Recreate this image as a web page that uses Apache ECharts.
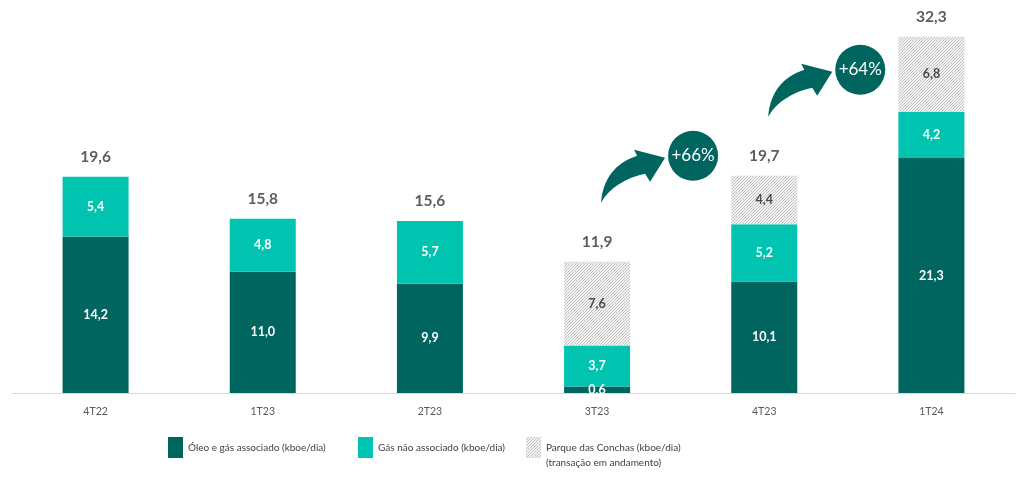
<!DOCTYPE html>
<html>
<head>
<meta charset="utf-8">
<script src="https://cdn.jsdelivr.net/npm/echarts@6/dist/echarts.min.js"></script>
<style>
  html, body { margin: 0; padding: 0; background: #fff; }
  #chart { width: 1017px; height: 485px; }
</style>
</head>
<body>
<div id="chart"></div>
<script>
const quarters = ["4T22", "1T23", "2T23", "3T23", "4T23", "1T24"];
const oleo = [14.2, 11.0, 9.9, 0.6, 10.1, 21.3];
const gasNaoAssociado = [5.4, 4.8, 5.7, 3.7, 5.2, 4.2];
const parqueConchas = [null, null, null, 7.6, 4.4, 6.8];
const totals = [19.6, 15.8, 15.6, 11.9, 19.7, 32.3];
const growth = [
  { from: "3T23", value: 11.9, text: "+66%" },
  { from: "4T23", value: 19.7, text: "+64%" }
];

const DARK = "#00645f";
const TEAL = "#00c4b0";
const FONT = "Lato, 'Open Sans', sans-serif";

function fmt(v) {
  return v.toFixed(1).replace(".", ",");
}

function hatch() {
  const c = document.createElement("canvas");
  c.width = 3;
  c.height = 3;
  const ctx = c.getContext("2d");
  ctx.fillStyle = "#f2f2f2";
  ctx.fillRect(0, 0, 3, 3);
  ctx.strokeStyle = "#c2c2c2";
  ctx.lineWidth = 1;
  ctx.beginPath();
  ctx.moveTo(-1, 4); ctx.lineTo(4, -1);
  ctx.moveTo(-1, 1); ctx.lineTo(1, -1);
  ctx.moveTo(2, 4); ctx.lineTo(4, 2);
  ctx.stroke();
  return { image: c, repeat: "repeat" };
}
const hatchFill = hatch();

// curved "growth" arrow, tail at the shape origin
echarts.graphic.registerShape("growthArrow", echarts.graphic.extendShape({
  shape: { x: 0, y: 0 },
  buildPath(ctx, s) {
    const x = s.x, y = s.y;
    ctx.moveTo(x, y);
    ctx.bezierCurveTo(x + 2, y - 25, x + 15, y - 40, x + 36, y - 47);
    ctx.lineTo(x + 33, y - 53);
    ctx.lineTo(x + 64, y - 45);
    ctx.lineTo(x + 49, y - 21);
    ctx.lineTo(x + 44, y - 29);
    ctx.bezierCurveTo(x + 25, y - 25, x + 8, y - 15, x, y);
    ctx.closePath();
  }
}));

const chart = echarts.init(document.getElementById("chart"));

const innerLabel = (color) => ({
  show: true,
  position: "inside",
  color,
  fontFamily: FONT,
  fontWeight: "bold",
  fontSize: 12.5,
  formatter: (p) => (p.value == null || p.value === "-" ? "" : fmt(p.value))
});

const legendText = { color: "#404040", fontFamily: FONT, fontSize: 10 };
const legendBase = { top: 437, padding: 0, itemWidth: 15, itemHeight: 21, itemGap: 0, textStyle: legendText, selectedMode: false };

chart.setOption({
  animation: false,
  backgroundColor: "#fff",
  grid: { left: 12, right: 2, top: 7, bottom: 92 },
  xAxis: {
    type: "category",
    data: quarters,
    axisLine: { lineStyle: { color: "#d9d9d9", width: 1 } },
    axisTick: { show: false },
    axisLabel: { color: "#595959", fontFamily: FONT, fontSize: 10.5, margin: 13 }
  },
  yAxis: { type: "value", min: 0, max: 35, show: false, splitLine: { show: false } },
  legend: [
    Object.assign({ left: 168, data: [{ name: "Óleo e gás associado (kboe/dia)", icon: "rect" }] }, legendBase),
    Object.assign({ left: 358, data: [{ name: "Gás não associado (kboe/dia)", icon: "rect" }] }, legendBase),
    Object.assign({ left: 526, data: [{ name: "Parque das Conchas (kboe/dia)", icon: "rect" }] }, legendBase)
  ],
  series: [
    {
      name: "Óleo e gás associado (kboe/dia)",
      type: "bar",
      stack: "prod",
      barWidth: 66,
      itemStyle: { color: DARK },
      label: innerLabel("#ffffff"),
      data: oleo
    },
    {
      name: "Gás não associado (kboe/dia)",
      type: "bar",
      stack: "prod",
      barWidth: 66,
      itemStyle: { color: TEAL },
      label: innerLabel("#ffffff"),
      data: gasNaoAssociado
    },
    {
      name: "Parque das Conchas (kboe/dia)",
      type: "bar",
      stack: "prod",
      barWidth: 66,
      itemStyle: { color: hatchFill },
      label: innerLabel("#4a4a4a"),
      data: parqueConchas.map((v) => (v == null ? "-" : v))
    },
    {
      name: "total",
      type: "scatter",
      symbolSize: 0,
      silent: true,
      label: {
        show: true,
        position: "top",
        distance: 12,
        color: "#333333",
        fontFamily: FONT,
        fontWeight: "bold",
        fontSize: 15.5,
        formatter: (p) => fmt(p.value)
      },
      data: totals
    }
  ]
});

// growth arrows + bubbles, anchored to the top of the bar they start from
const graphics = [];
growth.forEach((g) => {
  const [x, y] = chart.convertToPixel({ gridIndex: 0 }, [g.from, g.value]);
  graphics.push({
    type: "growthArrow",
    shape: { x: x + 4, y: y - 59 },
    style: { fill: DARK }
  });
  graphics.push({
    type: "circle",
    shape: { cx: x + 96, cy: y - 106, r: 25 },
    style: { fill: DARK }
  });
  graphics.push({
    type: "text",
    x: x + 96,
    y: y - 106,
    style: {
      text: g.text,
      fill: "#ffffff",
      font: "17px " + FONT,
      align: "center",
      verticalAlign: "middle"
    }
  });
});
graphics.push({
  type: "text",
  left: 546,
  top: 458,
  style: { text: "(transação em andamento)", fill: "#404040", font: "10px " + FONT }
});
chart.setOption({ graphic: graphics });
</script>
</body>
</html>
